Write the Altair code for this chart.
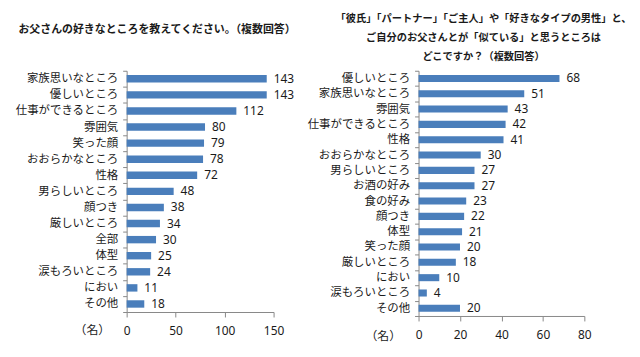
import altair as alt
import pandas as pd

FONT_JP = "Noto Sans CJK JP"
FONT_NUM = "Noto Sans"
BAR = "#4a7ebb"
AXIS_C = "#888888"
TEXT_C = "#1a1a1a"

left_title = "お父さんの好きなところを教えてください。（複数回答）"
left_cats = ["家族思いなところ", "優しいところ", "仕事ができるところ", "雰囲気", "笑った顔",
             "おおらかなところ", "性格", "男らしいところ", "顔つき", "厳しいところ", "全部",
             "体型", "涙もろいところ", "におい", "その他"]
left_vals = [143, 143, 112, 80, 79, 78, 72, 48, 38, 34, 30, 25, 24, 11, 18]
left_ticks = [0, 50, 100, 150]

right_title = ["「彼氏」「パートナー」「ご主人」や「好きなタイプの男性」と、",
               "ご自分のお父さんとが「似ている」と思うところは",
               "どこですか？（複数回答）"]
right_cats = ["優しいところ", "家族思いなところ", "雰囲気", "仕事ができるところ", "性格",
              "おおらかなところ", "男らしいところ", "お酒の好み", "食の好み", "顔つき", "体型",
              "笑った顔", "厳しいところ", "におい", "涙もろいところ", "その他"]
right_vals = [68, 51, 43, 42, 41, 30, 27, 27, 23, 22, 21, 20, 18, 10, 4, 20]
right_ticks = [0, 20, 40, 60, 80]

unit_label = "（名）"


def panel(cats, vals, ticks, w, h, title, unit_x, unit_y):
    df = pd.DataFrame({"cat": cats, "val": vals})
    y = alt.Y("cat:N", sort=cats,
              scale=alt.Scale(paddingInner=0, paddingOuter=0),
              axis=alt.Axis(title=None, tickBand="extent", tickSize=4, labelPadding=5,
                            labelFont=FONT_JP, labelFontSize=11.5, labelColor=TEXT_C,
                            domainColor=AXIS_C, tickColor=AXIS_C, labelLimit=200))
    x = alt.X("val:Q",
              scale=alt.Scale(domain=[ticks[0], ticks[-1]], nice=False),
              axis=alt.Axis(values=ticks, grid=False, tickSize=5, labelPadding=9,
                            labelFont=FONT_NUM, labelFontSize=12, labelColor=TEXT_C,
                            domainColor=AXIS_C, tickColor=AXIS_C,
                            title=unit_label, titleFont=FONT_JP, titleFontSize=12,
                            titleFontWeight="normal", titleColor=TEXT_C,
                            titleX=unit_x, titleY=unit_y, titleAlign="center",
                            titleBaseline="middle", labelFlush=False))
    bars = alt.Chart(df).mark_bar(color=BAR, height=alt.RelativeBandSize(0.46)).encode(x=x, y=y)
    labels = alt.Chart(df).mark_text(align="left", baseline="middle", dx=7,
                                     font=FONT_NUM, fontSize=12, color=TEXT_C).encode(
        x="val:Q", y=alt.Y("cat:N", sort=cats), text="val:Q")
    return alt.layer(bars, labels).properties(width=w, height=h, title=title)


left = panel(left_cats, left_vals, left_ticks, 148, 243,
             alt.TitleParams(left_title, anchor="start", frame="group", dx=-109, offset=30,
                             font=FONT_JP, fontSize=11, fontWeight="bold", color=TEXT_C),
             -35, 18)
right = panel(right_cats, right_vals, right_ticks, 167, 247,
              alt.TitleParams(right_title, anchor="middle", frame="group", dx=-18, offset=3,
                              lineHeight=19, font=FONT_JP, fontSize=10.3, fontWeight="bold",
                              color=TEXT_C),
              -36, 20)

chart = alt.hconcat(left, right, spacing=146, bounds="flush").properties(
    padding={"left": 6.5, "top": 4, "right": 0, "bottom": 0},
    background="white",
).configure_view(strokeWidth=0)

chart.save("out.html", embed_options={"renderer": "svg", "actions": False})
